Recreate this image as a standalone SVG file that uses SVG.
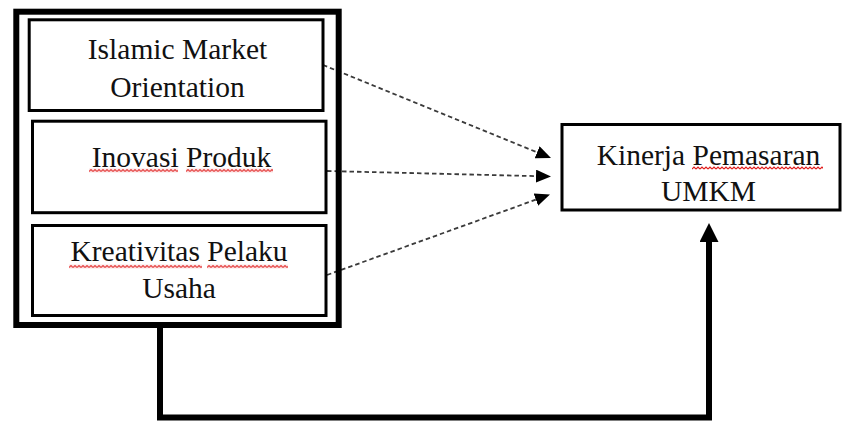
<svg xmlns="http://www.w3.org/2000/svg" width="842" height="421" viewBox="0 0 842 421">
  <style>
    .box { fill: #ffffff; stroke: #000000; stroke-width: 3; }
    .outer { fill: none; stroke: #000000; stroke-width: 6; }
    .lbl { font-family: "Liberation Serif", "Times New Roman", serif; font-size: 29.5px; fill: #111111; text-anchor: middle; }
    .dash { fill: none; stroke: #3a3a3a; stroke-width: 1.8; stroke-dasharray: 4.5 3; }
    .thick { fill: none; stroke: #000000; stroke-width: 6; }
  </style>
  <defs>
    <marker id="arrowSmall" viewBox="0 0 15 13" refX="11" refY="6.5" markerWidth="15" markerHeight="13" markerUnits="userSpaceOnUse" orient="auto">
      <path d="M0,0 L15,6.5 L0,13 z" fill="#000000"/>
    </marker>
    <marker id="arrowBig" viewBox="0 0 19 19" refX="2" refY="9.5" markerWidth="19" markerHeight="19" markerUnits="userSpaceOnUse" orient="auto">
      <path d="M0,0 L19,9.5 L0,19 z" fill="#000000"/>
    </marker>
    <pattern id="squiggle" patternUnits="userSpaceOnUse" width="4" height="4">
      <path d="M0,3 L2,1 L4,3" fill="none" stroke="#e01818" stroke-width="1.2"/>
    </pattern>
  </defs>

  <g id="connectors">
    <line class="dash" x1="323" y1="65" x2="547.3" y2="156.5" marker-end="url(#arrowSmall)"/>
    <line class="dash" x1="327" y1="171" x2="547" y2="176.4" marker-end="url(#arrowSmall)"/>
    <line class="dash" x1="327" y1="275" x2="546.2" y2="195.9" marker-end="url(#arrowSmall)"/>
    <path class="thick" d="M160,328 V417.5 H709 V240" marker-end="url(#arrowBig)"/>
  </g>

  <g id="group-independent">
    <rect class="outer" x="16.3" y="11.7" width="322.4" height="313.3"/>
  </g>

  <g id="node-islamic-market-orientation">
    <rect class="box" x="29.2" y="19.8" width="293.8" height="90.7"/>
    <text class="lbl" x="177.5" y="59.3">Islamic Market</text>
    <text class="lbl" x="177.5" y="96.7">Orientation</text>
  </g>

  <g id="node-inovasi-produk">
    <rect class="box" x="32.5" y="121.2" width="293.5" height="91.5"/>
    <text class="lbl" x="181.5" y="166.7">Inovasi Produk</text>
    <g transform="translate(89,168.5)"><rect width="89" height="4" fill="url(#squiggle)"/></g>
    <g transform="translate(186,168.5)"><rect width="87" height="4" fill="url(#squiggle)"/></g>
  </g>

  <g id="node-kreativitas-pelaku-usaha">
    <rect class="box" x="32.5" y="225.5" width="293.5" height="90"/>
    <text class="lbl" x="179" y="261">Kreativitas Pelaku</text>
    <text class="lbl" x="179" y="297.7">Usaha</text>
    <g transform="translate(69,264.5)"><rect width="133" height="4" fill="url(#squiggle)"/></g>
    <g transform="translate(207,264.5)"><rect width="81" height="4" fill="url(#squiggle)"/></g>
  </g>

  <g id="node-kinerja-pemasaran-umkm">
    <rect class="box" x="562" y="124.5" width="278" height="85.5"/>
    <text class="lbl" x="708.5" y="165">Kinerja Pemasaran</text>
    <text class="lbl" x="708.5" y="200.7">UMKM</text>
    <g transform="translate(692,166)"><rect width="131" height="4" fill="url(#squiggle)"/></g>
  </g>
</svg>
